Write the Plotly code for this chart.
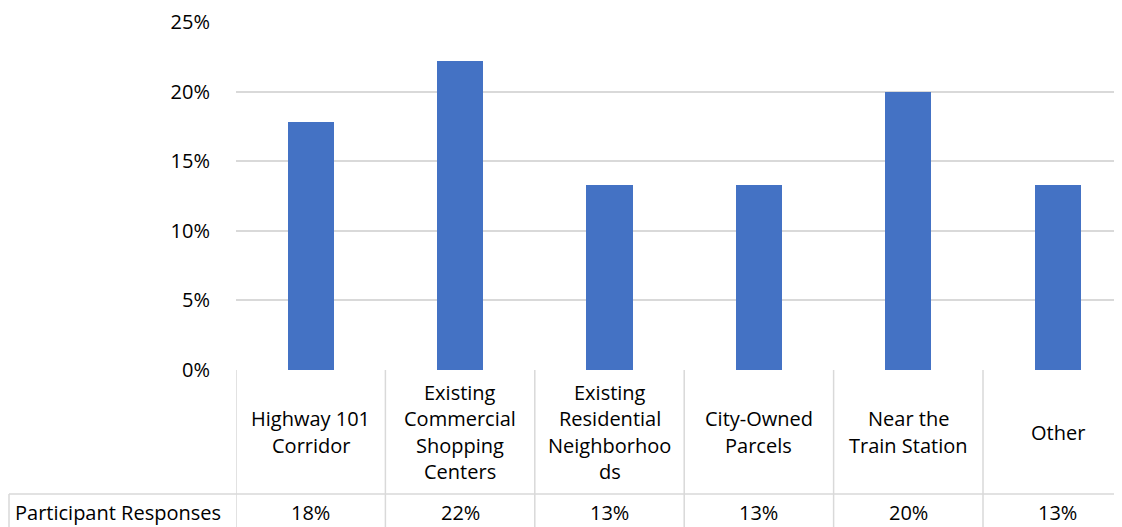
import plotly.graph_objects as go

categories = [
    "Highway 101<br>Corridor",
    "Existing<br>Commercial<br>Shopping<br>Centers",
    "Existing<br>Residential<br>Neighborhoo<br>ds",
    "City-Owned<br>Parcels",
    "Near the<br>Train Station",
    "Other",
]
values = [0.178, 0.222, 0.133, 0.133, 0.200, 0.133]
series_name = "Participant Responses"
y_ticks = [0, 0.05, 0.10, 0.15, 0.20, 0.25]
y_tick_labels = ["0%", "5%", "10%", "15%", "20%", "25%"]

# the page body has an 8px margin; size the figure so it ends at the window edge
OFF = 8
W, H = 1122 - OFF, 527 - OFF
FONT = "Open Sans"
FS = 20
TXT = "#000000"
GRID = "#d9d9d9"

def py(px):  # window pixel y (from top) -> paper
    return (H - (px - OFF)) / H

def pxx(px):  # window pixel x -> paper
    return (px - OFF) / W

x_idx = list(range(len(categories)))

fig = go.Figure()
fig.add_trace(go.Bar(
    x=x_idx, y=values, width=0.31,
    marker=dict(color="#4472C4", line=dict(width=0)),
    name=series_name, showlegend=False, hoverinfo="skip",
))

shapes = []
annotations = []
top_px, mid_px, bot_px = 370, 494, 527
for b in [i - 0.5 for i in range(len(categories) + 1)]:
    shapes.append(dict(type="line", xref="x", yref="paper", x0=b, x1=b,
                       y0=py(bot_px), y1=py(top_px),
                       line=dict(color=GRID, width=1.5), layer="above"))
shapes.append(dict(type="line", xref="paper", yref="paper", x0=pxx(9), x1=1,
                   y0=py(mid_px), y1=py(mid_px), line=dict(color=GRID, width=1.5)))
shapes.append(dict(type="line", xref="paper", yref="paper", x0=pxx(9), x1=pxx(9),
                   y0=0, y1=py(mid_px), line=dict(color=GRID, width=1.5)))

line_sp = 26.5
center = 432
for i, cat in enumerate(categories):
    lines = cat.split("<br>")
    n = len(lines)
    for j, ln in enumerate(lines):
        ypx = center + (j - (n - 1) / 2) * line_sp
        annotations.append(dict(x=i, y=py(ypx), xref="x", yref="paper", text=ln,
                                showarrow=False, xanchor="center", yanchor="middle",
                                font=dict(family=FONT, size=FS, color=TXT)))
    annotations.append(dict(x=i, y=py(512), xref="x", yref="paper",
                            text=f"{values[i]:.0%}", showarrow=False,
                            xanchor="center", yanchor="middle",
                            font=dict(family=FONT, size=FS, color=TXT)))
annotations.append(dict(x=pxx(13), y=py(512), xref="paper", yref="paper",
                        text=series_name, showarrow=False, xanchor="left", yanchor="middle",
                        font=dict(family=FONT, size=FS, color=TXT)))

col_w = 149.4
x_end = -0.5 + (1122 - 236) / col_w

fig.update_layout(
    width=W, height=H,
    margin=dict(l=0, r=0, t=0, b=0, pad=0, autoexpand=False),
    paper_bgcolor="white", plot_bgcolor="white",
    shapes=shapes, annotations=annotations,
    bargap=0,
    xaxis=dict(domain=[pxx(236), 1], range=[-0.5, x_end], showticklabels=False,
               showgrid=False, zeroline=False, showline=False, ticks="",
               automargin=False),
    yaxis=dict(domain=[py(370), py(22)], range=[0, 0.25], tickvals=y_ticks,
               ticktext=y_tick_labels, showgrid=True, gridcolor=GRID, gridwidth=1.5,
               zeroline=False, showline=False, ticks="", ticklabelstandoff=25,
               automargin=False,
               tickfont=dict(family=FONT, size=FS, color=TXT)),
)

fig.write_html("out.html")
